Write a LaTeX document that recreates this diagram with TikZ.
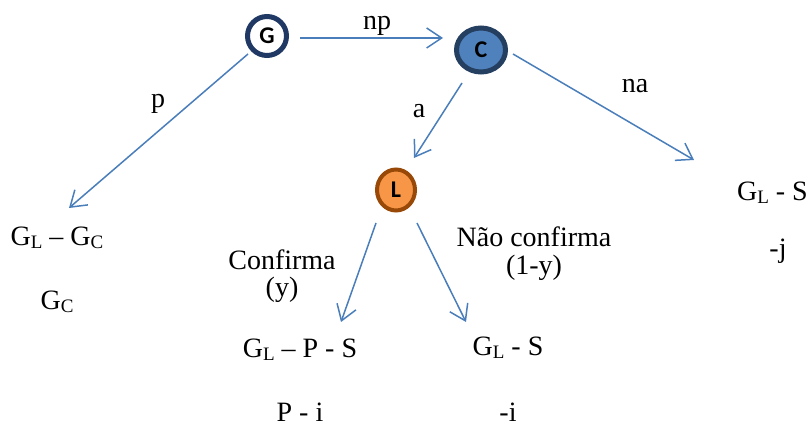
\documentclass[tikz,border=0pt]{standalone}
\usepackage{fontspec}
\setmainfont{Liberation Serif}
\newfontfamily\circfont{Carlito}
\usetikzlibrary{arrows.meta,shapes.geometric}
\definecolor{arrowblue}{HTML}{4A7EBB}
\definecolor{navy}{HTML}{1F3864}
\definecolor{cfill}{HTML}{4F81BD}
\definecolor{cborder}{HTML}{243F60}
\definecolor{lfill}{HTML}{F79646}
\definecolor{lborder}{HTML}{984807}
\newcommand\lsub[1]{\raisebox{-0.09em}{\fontsize{19}{19}\selectfont #1}}
\tikzset{
  conn/.style={draw=arrowblue, line width=1.5pt, -{Straight Barb[length=15pt,width=20pt,line width=1.5pt]}},
  lbl/.style={inner sep=0pt, anchor=base, font=\fontsize{28}{28}\selectfont},
  two/.style={lbl, align=center},
  state/.style={ellipse, inner sep=0pt, font=\circfont\bfseries\fontsize{24}{24}\selectfont, text=black},
}
\begin{document}
\begin{tikzpicture}[x=1pt,y=-1pt]
\useasboundingbox (0,0) rectangle (809,427);
% states
\node[state, draw=navy, line width=5pt, fill=white, minimum width=39pt, minimum height=39pt] (G) at (267,36) {G};
\node[state, draw=cborder, line width=5pt, fill=cfill, minimum width=49pt, minimum height=44pt] (C) at (481,50) {C};
\node[state, draw=lborder, line width=4pt, fill=lfill, minimum width=38pt, minimum height=41pt] (L) at (396,190) {L};
% connector end points
\coordinate (np1) at (300,38);
\coordinate (np2) at (443,38);
\coordinate (p1) at (248,54);
\coordinate (p2) at (69,208);
\coordinate (a1) at (462,83);
\coordinate (a2) at (414,158);
\coordinate (na1) at (513,54);
\coordinate (na2) at (694,160);
\coordinate (y1) at (376,223);
\coordinate (y2) at (341,322);
\coordinate (ny1) at (417,223);
\coordinate (ny2) at (466,322);
\draw[conn] (np1) -- (np2);
\draw[conn] (p1) -- (p2);
\draw[conn] (a1) -- (a2);
\draw[conn] (na1) -- (na2);
\draw[conn] (y1) -- (y2);
\draw[conn] (ny1) -- (ny2);
% edge labels
\node[lbl] (lnp) at (377,30) {np};
\node[lbl] (lp) at (158,108) {p};
\node[lbl] (la) at (419,118) {a};
\node[lbl] (lna) at (635,93) {na};
\node[two] (lconf) at (282,297) {Confirma\\[-0.5pt](y)};
\node[two] (lnconf) at (534,275) {Não confirma\\[0pt](1-y)};
% payoffs
\node[lbl] (o1a) at (57,246) {G\lsub{L} -- G\lsub{C}};
\node[lbl] (o1b) at (57,310) {G\lsub{C}};
\node[lbl] (o2a) at (300,358) {G\lsub{L} -- P - S};
\node[lbl, text depth=0pt] (o2b) at (300,422) {P - i};
\node[lbl] (o3a) at (508,356) {G\lsub{L} - S};
\node[lbl, text depth=0pt] (o3b) at (508,422) {-i};
\node[lbl, anchor=base east] (o4a) at (808,201) {G\lsub{L} - S};
\node[lbl] (o4b) at (778,258) {-j};
\end{tikzpicture}
\end{document}
